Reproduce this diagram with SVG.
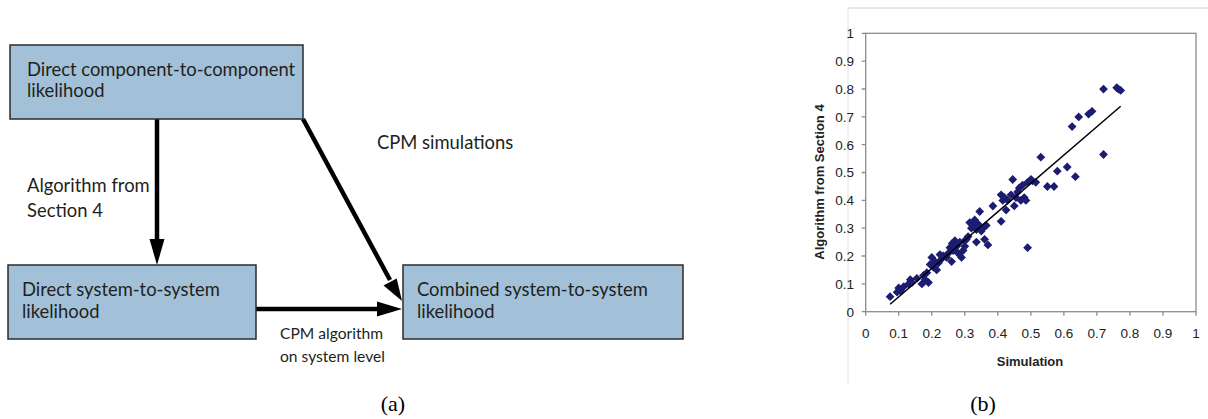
<svg xmlns="http://www.w3.org/2000/svg" xmlns:xlink="http://www.w3.org/1999/xlink" width="1208" height="419" viewBox="0 0 1208 419">
<style>
.box{fill:#a2c1d9;stroke:#2b2b2b;stroke-width:1.5}
.bt{font-family:Lato,"Liberation Sans",sans-serif;font-size:18.4px;fill:#231f20}
.sm{font-size:15.6px}
.conn{stroke:#000;stroke-width:4.5;fill:none}
.head{fill:#000}
.tick{font-family:"Liberation Sans",Arial,sans-serif;font-size:13.5px;fill:#222}
.axl{font-family:"Liberation Sans",Arial,sans-serif;font-size:13px;font-weight:bold;fill:#222}
.cap{font-family:"Liberation Serif","Times New Roman",serif;font-size:22px;fill:#000}
.grid{stroke:#8c8c8c;stroke-width:1.3;fill:none}
.pt{fill:#1c1c72}
</style>
<defs>
<path id="d" d="M0,-4.4 L4.4,0 L0,4.4 L-4.4,0Z"/>
</defs>
<rect width="1208" height="419" fill="#fff"/>

<g id="connectors">
<line class="conn" x1="157" y1="119" x2="157" y2="242"/>
<polygon class="head" points="157,265 149.5,239 164.5,239"/>
<line class="conn" x1="303" y1="119" x2="390" y2="280"/>
<polygon class="head" points="402,301 383.5,285.5 396.7,278.4"/>
<line class="conn" x1="256" y1="309" x2="380" y2="309"/>
<polygon class="head" points="402,309 377,301.5 377,316.5"/>
<text class="bt" x="27" y="192">Algorithm from</text>
<text class="bt" x="27" y="217">Section 4</text>
<text class="bt" x="377" y="149">CPM simulations</text>
<text class="bt sm" x="280" y="339">CPM algorithm</text>
<text class="bt sm" x="280" y="362">on system level</text>
</g>

<g id="node-component">
<rect class="box" x="10" y="45" width="293" height="74"/>
<text class="bt" x="27" y="76">Direct component-to-component</text>
<text class="bt" x="27" y="97">likelihood</text>
</g>
<g id="node-system">
<rect class="box" x="8" y="265" width="248" height="74"/>
<text class="bt" x="22" y="296">Direct system-to-system</text>
<text class="bt" x="22" y="318">likelihood</text>
</g>
<g id="node-combined">
<rect class="box" x="403" y="265" width="280" height="74"/>
<text class="bt" x="417" y="296">Combined system-to-system</text>
<text class="bt" x="417" y="318">likelihood</text>
</g>
<text class="cap" x="393" y="411" text-anchor="middle">(a)</text>

<g id="chart">
<line x1="848" y1="8" x2="1208" y2="8" stroke="#d0d0d0" stroke-width="1"/>
<line x1="848" y1="8" x2="848" y2="385" stroke="#e0e0e0" stroke-width="1"/>
<rect class="grid" x="865.7" y="33.3" width="330.3" height="278.4"/>
<g class="grid">
<path d="M861.7,33.3H865.7M861.7,61.1H865.7M861.7,89H865.7M861.7,116.8H865.7M861.7,144.7H865.7M861.7,172.5H865.7M861.7,200.4H865.7M861.7,228.2H865.7M861.7,256H865.7M861.7,283.9H865.7M861.7,311.7H865.7"/>
<path d="M865.7,311.7V315.7M898.7,311.7V315.7M931.8,311.7V315.7M964.8,311.7V315.7M997.8,311.7V315.7M1030.9,311.7V315.7M1063.9,311.7V315.7M1096.9,311.7V315.7M1129.9,311.7V315.7M1163,311.7V315.7M1196,311.7V315.7"/>
</g>
<g class="tick" text-anchor="end">
<text x="854" y="38">1</text>
<text x="854" y="66">0.9</text>
<text x="854" y="94">0.8</text>
<text x="854" y="121.5">0.7</text>
<text x="854" y="149.5">0.6</text>
<text x="854" y="177">0.5</text>
<text x="854" y="205">0.4</text>
<text x="854" y="233">0.3</text>
<text x="854" y="261">0.2</text>
<text x="854" y="288.5">0.1</text>
<text x="854" y="316.5">0</text>
</g>
<g class="tick" text-anchor="middle">
<text x="865.7" y="338">0</text>
<text x="898.7" y="338">0.1</text>
<text x="931.8" y="338">0.2</text>
<text x="964.8" y="338">0.3</text>
<text x="997.8" y="338">0.4</text>
<text x="1030.9" y="338">0.5</text>
<text x="1063.9" y="338">0.6</text>
<text x="1096.9" y="338">0.7</text>
<text x="1129.9" y="338">0.8</text>
<text x="1163" y="338">0.9</text>
<text x="1196" y="338">1</text>
</g>
<text class="axl" x="1030" y="366" text-anchor="middle">Simulation</text>
<text class="axl" transform="translate(824,182) rotate(-90)" text-anchor="middle">Algorithm from Section 4</text>
<g class="pt">
<use xlink:href="#d" x="890.1" y="296.7"/><use xlink:href="#d" x="897.1" y="292.2"/><use xlink:href="#d" x="898.7" y="288"/><use xlink:href="#d" x="900.4" y="290.8"/><use xlink:href="#d" x="903.7" y="286.7"/>
<use xlink:href="#d" x="908.6" y="283.9"/><use xlink:href="#d" x="910.3" y="279.7"/><use xlink:href="#d" x="911.9" y="282.5"/><use xlink:href="#d" x="921.9" y="283.9"/><use xlink:href="#d" x="923.5" y="275.5"/>
<use xlink:href="#d" x="925.2" y="279.7"/><use xlink:href="#d" x="928.5" y="282.5"/><use xlink:href="#d" x="926.8" y="272.7"/><use xlink:href="#d" x="930.1" y="264.4"/><use xlink:href="#d" x="931.8" y="257.4"/>
<use xlink:href="#d" x="933.4" y="267.2"/><use xlink:href="#d" x="935.1" y="261.6"/><use xlink:href="#d" x="936.7" y="269.9"/><use xlink:href="#d" x="938.4" y="263"/><use xlink:href="#d" x="941.7" y="258.8"/>
<use xlink:href="#d" x="943.3" y="256"/><use xlink:href="#d" x="946.6" y="257.4"/><use xlink:href="#d" x="948.3" y="253.3"/><use xlink:href="#d" x="949.9" y="247.7"/><use xlink:href="#d" x="951.6" y="261.6"/>
<use xlink:href="#d" x="952.2" y="243.5"/><use xlink:href="#d" x="953.2" y="250.5"/><use xlink:href="#d" x="954.9" y="240.7"/><use xlink:href="#d" x="956.5" y="246.3"/><use xlink:href="#d" x="958.2" y="253.3"/>
<use xlink:href="#d" x="959.8" y="242.1"/><use xlink:href="#d" x="961.5" y="257.4"/><use xlink:href="#d" x="963.1" y="250.5"/><use xlink:href="#d" x="964.8" y="246.3"/><use xlink:href="#d" x="966.4" y="239.3"/>
<use xlink:href="#d" x="968.1" y="236.6"/><use xlink:href="#d" x="969.7" y="222.6"/><use xlink:href="#d" x="971.4" y="228.2"/><use xlink:href="#d" x="973" y="225.4"/><use xlink:href="#d" x="974.7" y="219.9"/>
<use xlink:href="#d" x="976.4" y="242.1"/><use xlink:href="#d" x="978" y="224"/><use xlink:href="#d" x="979.7" y="211.5"/><use xlink:href="#d" x="981.3" y="231"/><use xlink:href="#d" x="983" y="228.2"/>
<use xlink:href="#d" x="984.6" y="239.3"/><use xlink:href="#d" x="986.3" y="225.4"/><use xlink:href="#d" x="987.9" y="244.9"/><use xlink:href="#d" x="992.9" y="206"/><use xlink:href="#d" x="1001.1" y="221.3"/>
<use xlink:href="#d" x="1001.1" y="194.8"/><use xlink:href="#d" x="1002.8" y="200.4"/><use xlink:href="#d" x="1004.4" y="197.6"/><use xlink:href="#d" x="1006.1" y="210.1"/><use xlink:href="#d" x="1007.7" y="200.4"/>
<use xlink:href="#d" x="1012.7" y="179.5"/><use xlink:href="#d" x="1014.3" y="205.9"/><use xlink:href="#d" x="1016" y="197.6"/><use xlink:href="#d" x="1017.6" y="192"/><use xlink:href="#d" x="1019.3" y="187.9"/>
<use xlink:href="#d" x="1020.9" y="200.4"/><use xlink:href="#d" x="1022.6" y="185.1"/><use xlink:href="#d" x="1024.2" y="197.6"/><use xlink:href="#d" x="1025.9" y="200.4"/><use xlink:href="#d" x="1027.6" y="247.7"/>
<use xlink:href="#d" x="1027.6" y="182.3"/><use xlink:href="#d" x="1030.9" y="179.5"/><use xlink:href="#d" x="1032.5" y="180.9"/><use xlink:href="#d" x="1035.8" y="182.3"/><use xlink:href="#d" x="1040.8" y="157.2"/>
<use xlink:href="#d" x="1047.4" y="186.5"/><use xlink:href="#d" x="1054" y="186.5"/><use xlink:href="#d" x="1057.3" y="171.2"/><use xlink:href="#d" x="1067.2" y="167"/><use xlink:href="#d" x="1075.4" y="176.7"/>
<use xlink:href="#d" x="1072.1" y="126.6"/><use xlink:href="#d" x="1078.7" y="116.9"/><use xlink:href="#d" x="1088.6" y="114.1"/><use xlink:href="#d" x="1092" y="111.3"/><use xlink:href="#d" x="1103.5" y="154.5"/>
<use xlink:href="#d" x="1103.5" y="89.1"/><use xlink:href="#d" x="1116.7" y="87.7"/><use xlink:href="#d" x="1118.4" y="89.1"/><use xlink:href="#d" x="1120.7" y="90.4"/><use xlink:href="#d" x="916.9" y="278.3"/>
<use xlink:href="#d" x="940" y="254.6"/><use xlink:href="#d" x="954.9" y="247.7"/><use xlink:href="#d" x="976.4" y="229.6"/><use xlink:href="#d" x="1011" y="194.8"/><use xlink:href="#d" x="964.8" y="240.7"/>
</g>
<line x1="890.1" y1="304.2" x2="1120.7" y2="106.3" stroke="#000" stroke-width="1.5"/>
<text class="cap" x="983" y="411" text-anchor="middle">(b)</text>
</g>
</svg>
